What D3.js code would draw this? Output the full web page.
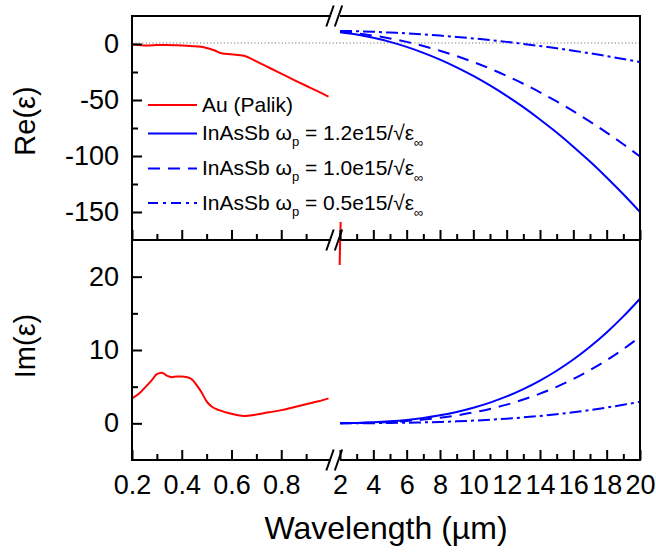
<!DOCTYPE html>
<html><head><meta charset="utf-8">
<script src="https://cdn.jsdelivr.net/npm/d3@7"></script>
<style>
body{margin:0;background:#fff}
text{font-family:"Liberation Sans",Arial,sans-serif;fill:#000}
</style>
</head><body>
<svg id="chart" width="656" height="553"></svg>
<script>
// ---------------- data ----------------
// Au (Palik), short-wavelength segment
const auReWl = [0.20,0.23,0.26,0.30,0.34,0.38,0.42,0.45,0.47,0.50,0.53,0.56,0.60,0.65,0.70,0.75,0.80,0.85,0.90,0.95,0.99];
const auRe   = [-0.5,-1.0,-1.3,-1.0,-0.8,-1.2,-1.6,-1.9,-2.3,-3.6,-5.6,-8.3,-9.2,-10.4,-15.5,-21.0,-26.5,-32.0,-37.3,-42.5,-47.0];
const auImWl = [0.20,0.23,0.25,0.28,0.30,0.32,0.34,0.36,0.38,0.40,0.42,0.44,0.46,0.48,0.50,0.52,0.55,0.60,0.65,0.70,0.75,0.80,0.85,0.90,0.95,0.99];
const auIm   = [3.4,4.1,4.8,5.9,6.7,6.9,6.5,6.3,6.4,6.4,6.3,6.0,5.2,4.2,3.0,2.3,1.8,1.3,1.0,1.2,1.5,1.8,2.2,2.6,3.0,3.4];
// Au piece visible right at the break (long-wavelength segment)
const auReBreakWl = [2.04, 2.01];
const auReBreak   = [-159, -175];
const auImBreakWl = [2.01, 1.98];
const auImBreak   = [25, 21.6];

// InAsSb (Drude), long-wavelength segment
const inWl  = [2,3,4,5,6,7,8,9,10,11,12,13,14,15,16,17,18,19,20];
const re12  = [10.4,8.4,5.5,1.9,-2.6,-7.9,-13.9,-20.8,-28.5,-37.0,-46.3,-56.4,-67.4,-79.1,-91.7,-105.0,-119.2,-134.2,-150.0];
const re10  = [10.9,9.5,7.5,5.0,1.9,-1.8,-6.0,-10.8,-16.1,-22.0,-28.5,-35.5,-43.1,-51.3,-60.0,-69.3,-79.1,-89.5,-100.5];
const re05  = [11.7,11.4,10.9,10.2,9.5,8.6,7.5,6.3,5.0,3.5,1.9,0.1,-1.8,-3.8,-6.0,-8.3,-10.8,-13.4,-16.1];
const im12  = [0.02,0.06,0.14,0.27,0.46,0.73,1.09,1.55,2.13,2.83,3.67,4.67,5.83,7.17,8.70,10.44,12.39,14.58,17.0];
const im10  = [0.01,0.04,0.09,0.19,0.32,0.51,0.76,1.08,1.48,1.96,2.55,3.24,4.05,4.98,6.04,7.25,8.60,10.12,11.8];
const im05  = [0.00,0.01,0.02,0.05,0.08,0.13,0.19,0.27,0.37,0.49,0.64,0.81,1.01,1.25,1.51,1.81,2.15,2.53,2.95];

// ticks
const xLeftMajor  = [0.2,0.4,0.6,0.8];
const xLeftLabels = ["0.2","0.4","0.6","0.8"];
const xLeftMinor  = [0.3,0.5,0.7,0.9];
const xRightMajor = [2,4,6,8,10,12,14,16,18,20];
const xRightLabels= ["2","4","6","8","10","12","14","16","18","20"];
const xRightMinor = [3,5,7,9,11,13,15,17,19];
const reMajor = [0,-50,-100,-150];
const reLabels = ["0","-50","-100","-150"];
const reMinor = [-25,-75,-125];
const imMajor = [0,10,20];
const imLabels = ["0","10","20"];
const imMinor = [5,15];

const legendLabels = ["Au (Palik)","1.2e15","1.0e15","0.5e15"];

// ---------------- layout ----------------
const svg = d3.select("#chart");
const L = 132, R = 640, T = 16, MID = 240, B = 460;
const xL = d3.scaleLinear().domain([0.2,1.0]).range([L,331]);
const xR = d3.scaleLinear().domain([2,20]).range([340,R]);
const yTop = d3.scaleLinear().domain([-175,25]).range([MID,T]);
const yBot = d3.scaleLinear().domain([-5,25]).range([B,MID]);

const RED = "#ff0000", BLUE = "#0000ff";
const DASH = "12,8", DASHDOT = "12,4,3,4";

// zero reference (dotted)
svg.append("line").attr("x1",L).attr("x2",R).attr("y1",yTop(0)-1).attr("y2",yTop(0)-1)
  .attr("stroke","#777").attr("stroke-width",1.2).attr("stroke-dasharray","1.2,2.2");

function zip(xs, ys){ return xs.map((x,i)=>({x, y: ys[i]})); }
function drawLine(data, xs, ys, color, dash, curve){
  const g = d3.line().x(d=>xs(d.x)).y(d=>ys(d.y)).curve(curve||d3.curveMonotoneX);
  svg.append("path").datum(data).attr("d", g).attr("fill","none")
    .attr("stroke", color).attr("stroke-width", 2).attr("stroke-dasharray", dash||null)
    .attr("stroke-linejoin","round");
}

// Au
drawLine(zip(auReWl, auRe), xL, yTop, RED);
drawLine(zip(auImWl, auIm), xL, yBot, RED);
drawLine(zip(auReBreakWl, auReBreak), xR, yTop, RED, null, d3.curveLinear);
drawLine(zip(auImBreakWl, auImBreak), xR, yBot, RED, null, d3.curveLinear);
// InAsSb
drawLine(zip(inWl, re12), xR, yTop, BLUE);
drawLine(zip(inWl, re10), xR, yTop, BLUE, DASH);
drawLine(zip(inWl, re05), xR, yTop, BLUE, DASHDOT);
drawLine(zip(inWl, im12), xR, yBot, BLUE);
drawLine(zip(inWl, im10), xR, yBot, BLUE, DASH);
drawLine(zip(inWl, im05), xR, yBot, BLUE, DASHDOT);

// ---------------- axes / frame ----------------
const frame = svg.append("g").attr("stroke","#000").attr("stroke-width",2).attr("fill","none");
[[L,T,L,B],[R,T,R,B]].forEach(s=>frame.append("line").attr("x1",s[0]).attr("y1",s[1]).attr("x2",s[2]).attr("y2",s[3]));
[T,MID,B].forEach(y=>{
  frame.append("line").attr("x1",L-1).attr("x2",xL.range()[1]).attr("y1",y).attr("y2",y);
  frame.append("line").attr("x1",xR.range()[0]).attr("x2",R+1).attr("y1",y).attr("y2",y);
});
// break marks
[T,MID,B].forEach(y=>{
  [330,338.5].forEach(cx=>{
    frame.append("line").attr("x1",cx-3.7).attr("y1",y+10.5).attr("x2",cx+3.7).attr("y2",y-10.5);
  });
});

function styleAxis(g){
  g.select(".domain").remove();
  g.selectAll(".tick line").attr("stroke","#000").attr("stroke-width",2);
  g.selectAll(".tick text").attr("font-size",27).attr("font-family",'"Liberation Sans",Arial,sans-serif');
}
// x ticks: bottom of top panel (no labels) and bottom of lower panel (labels)
[[MID,false],[B,true]].forEach(([y,lab])=>{
  const gl = svg.append("g").attr("transform",`translate(0,${y})`)
    .call(d3.axisBottom(xL).tickValues(xLeftMajor).tickSize(-10).tickPadding(15)
      .tickFormat((d,i)=> lab ? xLeftLabels[i] : ""));
  styleAxis(gl);
  const gm = svg.append("g").attr("transform",`translate(0,${y})`)
    .call(d3.axisBottom(xL).tickValues(xLeftMinor).tickSize(-6).tickFormat(""));
  styleAxis(gm);
  const gr = svg.append("g").attr("transform",`translate(0,${y})`)
    .call(d3.axisBottom(xR).tickValues(xRightMajor).tickSize(-10).tickPadding(15)
      .tickFormat((d,i)=> lab ? xRightLabels[i] : ""));
  styleAxis(gr);
  const grm = svg.append("g").attr("transform",`translate(0,${y})`)
    .call(d3.axisBottom(xR).tickValues(xRightMinor).tickSize(-6).tickFormat(""));
  styleAxis(grm);
});
// y ticks
[[yTop,reMajor,reLabels,reMinor],[yBot,imMajor,imLabels,imMinor]].forEach(([ys,maj,labs,mn])=>{
  const g1 = svg.append("g").attr("transform",`translate(${L},0)`)
    .call(d3.axisLeft(ys).tickValues(maj).tickSize(-10).tickPadding(13).tickFormat((d,i)=>labs[i]));
  styleAxis(g1);
  const g2 = svg.append("g").attr("transform",`translate(${L},0)`)
    .call(d3.axisLeft(ys).tickValues(mn).tickSize(-6).tickFormat(""));
  styleAxis(g2);
});

// axis titles
svg.append("text").attr("x",(L+R)/2).attr("y",539).attr("text-anchor","middle")
  .attr("font-size",32).text("Wavelength (µm)");
svg.append("text").attr("transform",`translate(35,${(T+MID)/2-7}) rotate(-90)`)
  .attr("text-anchor","middle").attr("font-size",29).text("Re(ε)");
svg.append("text").attr("transform",`translate(35,${(MID+B)/2-4}) rotate(-90)`)
  .attr("text-anchor","middle").attr("font-size",29).text("Im(ε)");

// ---------------- legend ----------------
const legRows = [105,133.5,168.5,203];
const legStyles = [[RED,null],[BLUE,null],[BLUE,"12,8"],[BLUE,"10,5,3,5"]];
legendLabels.forEach((lab,i)=>{
  const y = legRows[i];
  svg.append("line").attr("x1",148).attr("x2",197).attr("y1",y).attr("y2",y)
    .attr("stroke",legStyles[i][0]).attr("stroke-width",2).attr("stroke-dasharray",legStyles[i][1]);
  const t = svg.append("text").attr("x",202).attr("y",y+6.5).attr("font-size",21);
  if(i===0){ t.text(lab); }
  else {
    t.append("tspan").text("InAsSb ω");
    t.append("tspan").attr("font-size",13).attr("dy",6).text("p");
    t.append("tspan").attr("dy",-6).text(" = " + lab + "/√ε");
    t.append("tspan").attr("font-size",13).attr("dy",7).text("∞");
  }
});
</script>
</body></html>
